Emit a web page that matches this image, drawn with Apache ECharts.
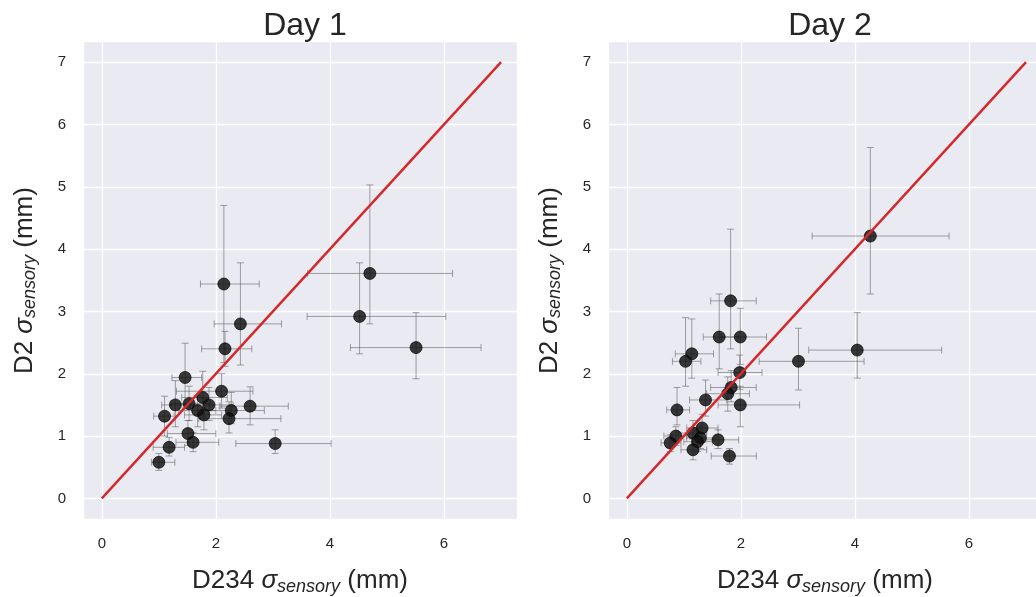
<!DOCTYPE html>
<html>
<head>
<meta charset="utf-8">
<script src="https://cdn.jsdelivr.net/npm/echarts@6/dist/echarts.min.js"></script>
<style>
  html, body { margin: 0; padding: 0; background: #ffffff; }
  #chart { width: 1036px; height: 597px; }
</style>
</head>
<body>
<div id="chart"></div>
<script>
// Per-participant sensory noise estimates (mm): D234 on x, D2 on y,
// with lower/upper bounds of the error bars.
const panelTitles = ['Day 1', 'Day 2'];

const day1X    = [2.14, 2.43, 2.16, 1.46, 2.10, 1.77, 1.53, 1.29, 1.88, 2.60, 2.27, 1.68, 1.79, 1.10, 2.23, 1.51, 1.60, 1.18, 3.04, 1.00, 4.70, 4.52, 5.51];
const day1Y    = [3.44, 2.80, 2.40, 1.94, 1.72, 1.62, 1.52, 1.50, 1.50, 1.48, 1.41, 1.41, 1.34, 1.32, 1.28, 1.04, 0.90, 0.82, 0.88, 0.58, 3.61, 2.92, 2.42];
const day1XLow = [1.73, 1.97, 1.75, 1.23, 1.31, 1.40, 1.20, 1.05, 1.55, 2.07, 1.80, 1.35, 1.45, 0.91, 1.70, 1.15, 1.30, 0.90, 2.35, 0.87, 3.61, 3.60, 4.36];
const day1XHigh= [2.76, 3.15, 2.63, 1.75, 2.65, 2.20, 1.90, 1.55, 2.30, 3.27, 2.85, 2.00, 2.10, 1.27, 3.14, 2.00, 2.05, 1.45, 4.02, 1.28, 6.15, 6.03, 6.65];
const day1YLow = [2.18, 2.14, 2.12, 1.45, 1.45, 1.30, 1.25, 1.15, 1.25, 1.18, 1.20, 1.15, 1.10, 1.00, 1.05, 0.85, 0.75, 0.68, 0.72, 0.45, 2.80, 2.32, 1.92];
const day1YHigh= [4.70, 3.78, 2.68, 2.49, 2.00, 2.04, 1.80, 1.89, 1.78, 1.79, 1.70, 1.65, 1.60, 1.64, 1.55, 1.25, 1.06, 0.98, 1.10, 0.72, 5.03, 3.78, 2.98];

const day2X    = [1.82, 1.62, 1.99, 1.14, 1.03, 3.01, 4.04, 4.27, 1.98, 1.83, 1.77, 1.38, 1.99, 0.88, 1.32, 1.16, 0.86, 1.29, 1.24, 1.60, 0.76, 1.16, 1.80];
const day2Y    = [3.17, 2.59, 2.59, 2.32, 2.20, 2.20, 2.38, 4.21, 2.02, 1.78, 1.68, 1.58, 1.50, 1.42, 1.13, 1.05, 1.00, 0.97, 0.91, 0.94, 0.89, 0.78, 0.68];
const day2XLow = [1.47, 1.34, 1.65, 0.85, 0.80, 2.32, 3.19, 3.25, 1.60, 1.47, 1.40, 1.10, 1.60, 0.70, 1.05, 0.90, 0.65, 1.05, 1.00, 1.30, 0.60, 0.95, 1.48];
const day2XHigh= [2.27, 1.95, 2.45, 1.52, 1.30, 4.16, 5.52, 5.65, 2.37, 2.27, 2.15, 1.75, 3.03, 1.10, 1.60, 1.40, 1.05, 1.55, 1.50, 1.96, 0.95, 1.40, 2.27];
const day2YLow = [2.40, 2.08, 2.15, 1.93, 1.80, 1.74, 1.93, 3.28, 1.75, 1.55, 1.40, 1.32, 1.15, 1.18, 0.90, 0.85, 0.85, 0.80, 0.75, 0.80, 0.75, 0.62, 0.55];
const day2YHigh= [4.32, 3.28, 3.05, 2.88, 2.90, 2.73, 2.98, 5.63, 2.30, 2.05, 1.95, 1.90, 1.80, 1.78, 1.35, 1.25, 1.15, 1.15, 1.08, 1.10, 1.02, 0.95, 0.80];

// Identity line end points
const identityLine = [[0, 0], [7, 7]];

const FONT = '"Liberation Sans", Arial, sans-serif';
const TEXT = '#262626';

function rows(x, y, xl, xh, yl, yh) {
  return x.map((v, i) => [v, y[i], xl[i], xh[i], yl[i], yh[i]]);
}
const panels = [
  rows(day1X, day1Y, day1XLow, day1XHigh, day1YLow, day1YHigh),
  rows(day2X, day2Y, day2XLow, day2XHigh, day2YLow, day2YHigh)
];

const gridLeft = [83, 608];
const gridWidth = 434;
const gridTop = 41.6;
const gridHeight = 478;

function nameText(prefix) {
  return '{n|' + prefix + ' }{g|σ}{s|sensory}{n| (mm)}';
}
const nameRich = {
  n: { fontSize: 26, fontFamily: FONT, color: TEXT },
  g: { fontSize: 26, fontFamily: FONT, color: TEXT, fontStyle: 'italic' },
  s: { fontSize: 18, fontFamily: FONT, color: TEXT, fontStyle: 'italic', padding: [11, 0, 0, 0] }
};

function errorBar(params, api) {
  const x = api.value(0), y = api.value(1);
  const c = api.coord([x, y]);
  const l = api.coord([api.value(2), y]);
  const r = api.coord([api.value(3), y]);
  const b = api.coord([x, api.value(4)]);
  const t = api.coord([x, api.value(5)]);
  const cap = 3.5;
  const style = { stroke: 'rgba(90,90,90,0.55)', lineWidth: 1 };
  const seg = (x1, y1, x2, y2) => ({ type: 'line', shape: { x1, y1, x2, y2 }, style });
  return {
    type: 'group',
    children: [
      seg(l[0], c[1], r[0], c[1]),
      seg(l[0], c[1] - cap, l[0], c[1] + cap),
      seg(r[0], c[1] - cap, r[0], c[1] + cap),
      seg(c[0], b[1], c[0], t[1]),
      seg(c[0] - cap, b[1], c[0] + cap, b[1]),
      seg(c[0] - cap, t[1], c[0] + cap, t[1])
    ]
  };
}

const grids = [], xAxes = [], yAxes = [], series = [], titles = [];
panels.forEach((data, i) => {
  grids.push({
    left: gridLeft[i], top: gridTop, width: gridWidth, height: gridHeight,
    show: true, backgroundColor: '#eaeaf2', borderWidth: 0,
    containLabel: false, outerBoundsMode: 'none'
  });
  titles.push({
    text: panelTitles[i],
    left: gridLeft[i] + gridWidth / 2, top: 5, textAlign: 'center',
    textStyle: { fontSize: 32, fontWeight: 'normal', fontFamily: FONT, color: TEXT }
  });
  const axisCommon = {
    type: 'value', gridIndex: i, min: -0.33,
    axisLine: { show: false }, axisTick: { show: false },
    splitLine: { show: true, lineStyle: { color: '#ffffff', width: 1.3 } },
    nameLocation: 'middle',
    nameTextStyle: { rich: nameRich }
  };
  xAxes.push(Object.assign({}, axisCommon, {
    max: 7.28, splitNumber: 5,
    axisLabel: { fontSize: 15, fontFamily: FONT, color: TEXT, margin: 17, showMinLabel: false, showMaxLabel: false },
    name: nameText('D234'), nameGap: 47
  }));
  yAxes.push(Object.assign({}, axisCommon, {
    min: -0.34, max: 7.33, splitNumber: 8,
    axisLabel: { fontSize: 15, fontFamily: FONT, color: TEXT, margin: 17, showMinLabel: false, showMaxLabel: false },
    name: nameText('D2'), nameGap: 44, nameRotate: 90
  }));
  series.push({
    type: 'custom', xAxisIndex: i, yAxisIndex: i,
    renderItem: errorBar, data: data,
    encode: { x: 0, y: 1 }, z: 2, silent: true
  });
  series.push({
    type: 'scatter', xAxisIndex: i, yAxisIndex: i,
    data: data.map(d => [d[0], d[1]]),
    symbolSize: 12,
    itemStyle: { color: 'rgba(15,15,15,0.82)', borderColor: 'rgba(0,0,0,0.85)', borderWidth: 0.8, opacity: 1 },
    z: 3, silent: true
  });
  series.push({
    type: 'line', xAxisIndex: i, yAxisIndex: i,
    data: identityLine, showSymbol: false, symbol: 'none',
    lineStyle: { color: '#d62728', width: 2.4 }, z: 4, silent: true
  });
});

const chart = echarts.init(document.getElementById('chart'), null, { renderer: 'canvas' });
chart.setOption({
  animation: false,
  backgroundColor: '#ffffff',
  title: titles,
  grid: grids,
  xAxis: xAxes,
  yAxis: yAxes,
  series: series
});
</script>
</body>
</html>
